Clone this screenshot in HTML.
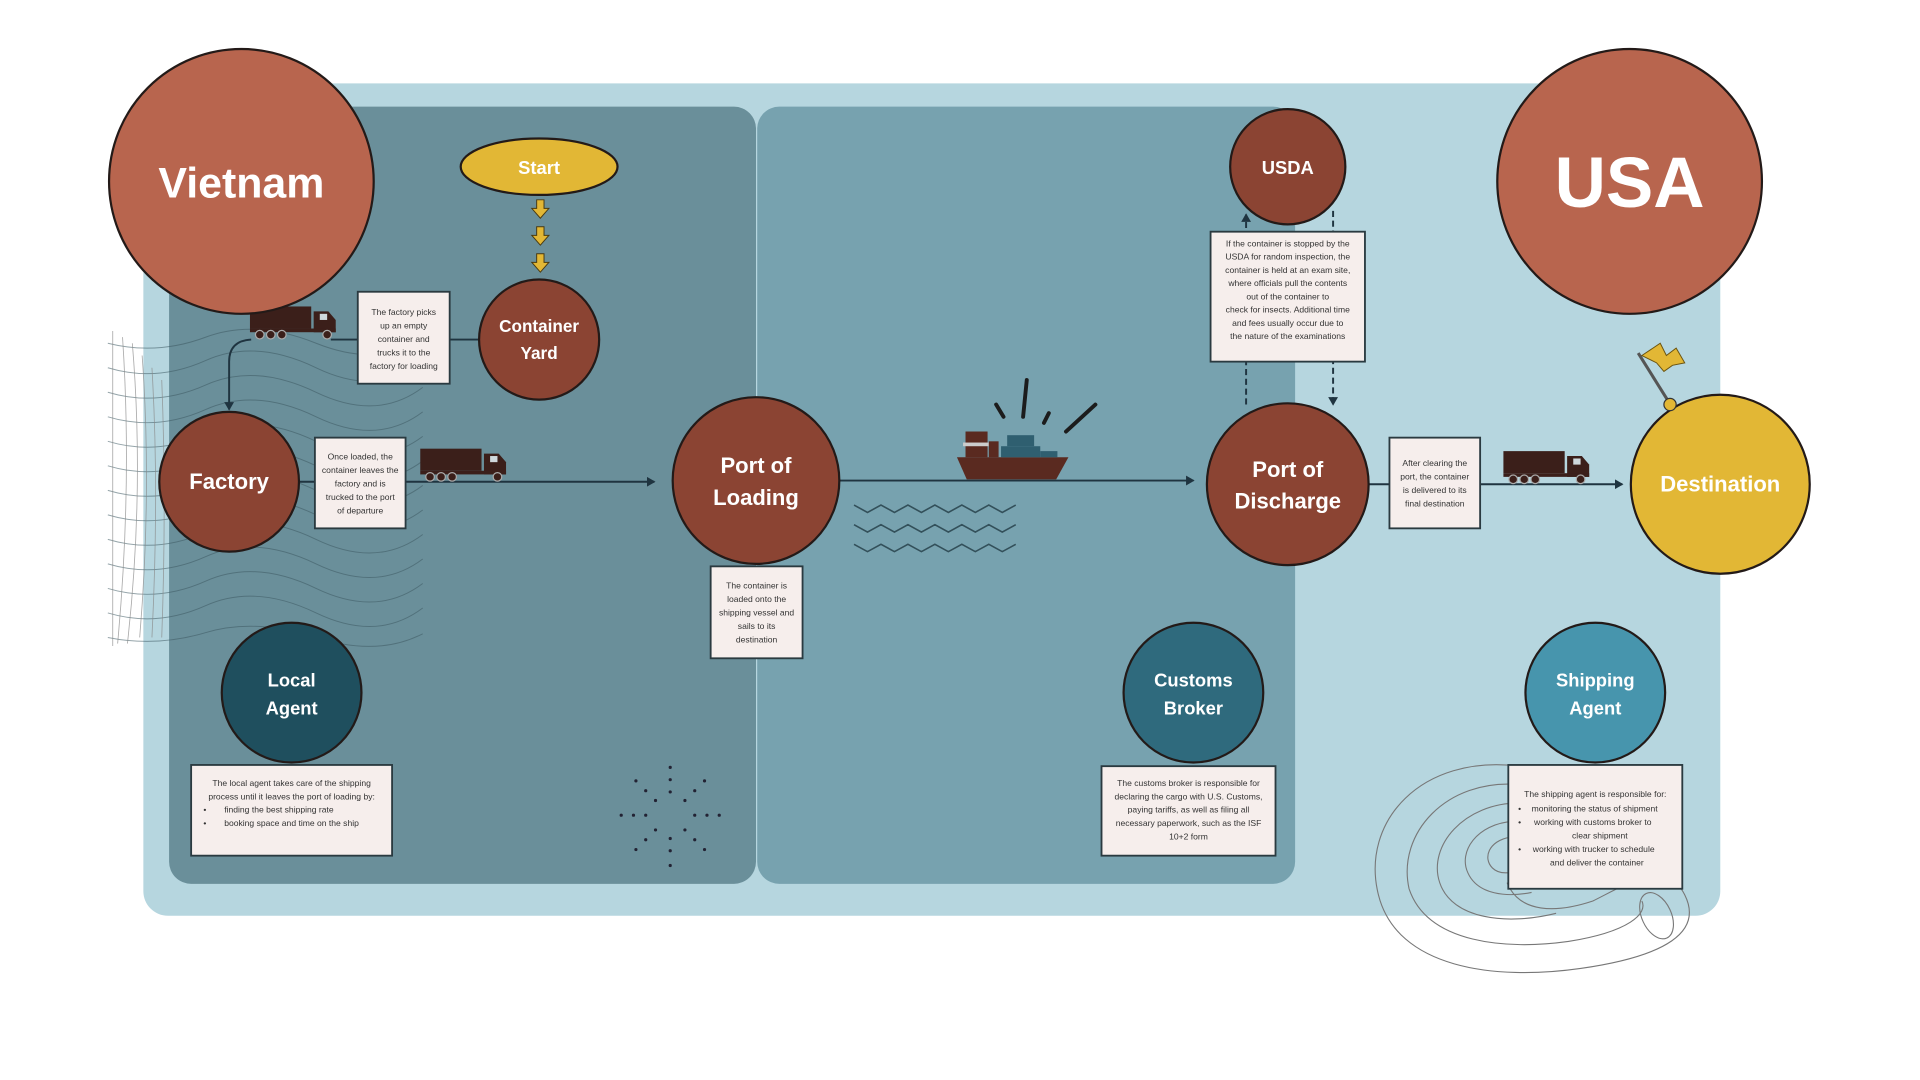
<!DOCTYPE html>
<html><head><meta charset="utf-8"><style>
html,body{margin:0;padding:0;background:#fff;width:1920px;height:1080px;overflow:hidden}
svg{display:block}
text{font-family:"Liberation Sans",sans-serif}
.lbl{fill:#fff;font-weight:bold;text-anchor:middle}
.bx{fill:#f6eeec;stroke:#2a3a40;stroke-width:1.5}
.bt{fill:#333;font-size:7px;text-anchor:middle}
.ln{stroke:#1f3440;stroke-width:1.6;fill:none}
</style></head><body>
<svg width="1920" height="1080" viewBox="0 0 1567 881" preserveAspectRatio="none" xmlns="http://www.w3.org/2000/svg">
<defs>
<marker id="ah" markerWidth="8" markerHeight="8" refX="6" refY="4" orient="auto" markerUnits="userSpaceOnUse"><path d="M0,0 L7,4 L0,8 Z" fill="#1f3440"/></marker>
<g id="truck">
<rect x="0" y="0" width="50" height="18" fill="#3b1f1a"/>
<path d="M52,4 H64 L70,11 V21 H52 Z" fill="#3b1f1a"/>
<rect x="57" y="6" width="6" height="5" fill="#cfd8dc"/>
<rect x="0" y="18" width="70" height="3" fill="#3b1f1a"/>
<circle cx="8" cy="23" r="3.5" fill="#3b1f1a" stroke="#aaa" stroke-width="1"/>
<circle cx="17" cy="23" r="3.5" fill="#3b1f1a" stroke="#aaa" stroke-width="1"/>
<circle cx="26" cy="23" r="3.5" fill="#3b1f1a" stroke="#aaa" stroke-width="1"/>
<circle cx="63" cy="23" r="3.5" fill="#3b1f1a" stroke="#aaa" stroke-width="1"/>
</g>
</defs>

<rect x="117" y="68" width="1287" height="679" rx="20" fill="#b6d6df"/>
<rect x="138" y="87" width="479" height="634" rx="18" fill="#6a8f9a"/>
<rect x="618" y="87" width="439" height="634" rx="18" fill="#77a2af"/>

<g stroke="#3e5a63" stroke-width="0.8" fill="none" opacity="0.55">
<path d="M88,280 q40,10 80,-5 t90,5 t87,-3"/><path d="M88,300 q40,12 80,-6 t90,6 t87,-4"/>
<path d="M88,320 q40,12 80,-6 t90,6 t87,-4"/><path d="M88,340 q40,12 80,-6 t90,6 t87,-4"/>
<path d="M88,360 q40,12 80,-6 t90,6 t87,-4"/><path d="M88,380 q40,12 80,-6 t90,6 t87,-4"/>
<path d="M88,400 q40,12 80,-6 t90,6 t87,-4"/><path d="M88,420 q40,12 80,-6 t90,6 t87,-4"/>
<path d="M88,440 q40,12 80,-6 t90,6 t87,-4"/><path d="M88,460 q40,12 80,-6 t90,6 t87,-4"/>
<path d="M88,480 q40,12 80,-6 t90,6 t87,-4"/><path d="M88,500 q40,12 80,-6 t90,6 t87,-4"/>
<path d="M88,520 q40,8 80,-4 t90,4 t87,-3"/>
</g>
<g stroke="#888" stroke-width="0.7" fill="none" opacity="0.7">
<path d="M92,270 v257"/><path d="M100,275 q8,120 -4,250"/><path d="M108,280 q10,120 -4,245"/><path d="M116,290 q8,110 -2,230"/><path d="M124,300 q6,100 0,220"/><path d="M132,310 q4,100 0,210"/>
</g>

<line class="ln" x1="331" y1="393" x2="534" y2="393" marker-end="url(#ah)"/>
<line class="ln" x1="685" y1="392" x2="974" y2="392" marker-end="url(#ah)"/>
<line class="ln" x1="1117" y1="395" x2="1324" y2="395" marker-end="url(#ah)"/>
<line class="ln" x1="367" y1="277" x2="391" y2="277"/>
<line class="ln" x1="270" y1="277" x2="292" y2="277"/>
<path class="ln" d="M205,277 Q187,278 187,295 L187,334" marker-end="url(#ah)"/>
<line class="ln" x1="244" y1="393" x2="257" y2="393"/>
<line class="ln" x1="1017" y1="330" x2="1017" y2="175" stroke-dasharray="5,3" marker-end="url(#ah)"/>
<line class="ln" x1="1088" y1="172" x2="1088" y2="330" stroke-dasharray="5,3" marker-end="url(#ah)"/>

<use href="#truck" x="204" y="250"/>
<use href="#truck" x="343" y="366"/>
<use href="#truck" x="1227" y="368"/>

<g>
<path d="M781,373 H872 L862,391 H789 Z" fill="#5a2a20"/>
<rect x="788" y="352" width="18" height="21" fill="#5a2a20"/>
<rect x="786" y="361" width="22" height="3" fill="#ccc"/>
<rect x="807" y="360" width="8" height="13" fill="#5a2a20"/>
<rect x="817" y="364" width="32" height="9" fill="#2f5f70"/>
<rect x="822" y="355" width="22" height="9" fill="#2f5f70"/>
<rect x="849" y="368" width="14" height="5" fill="#2f5f70"/>
<g stroke="#1c1c1c" stroke-width="3.2" stroke-linecap="round">
<line x1="813" y1="330" x2="819" y2="340"/><line x1="838" y1="310" x2="835" y2="340"/><line x1="856" y1="337" x2="852" y2="345"/><line x1="894" y1="330" x2="870" y2="352"/>
</g>
</g>
<g stroke="#33505a" stroke-width="1.3" fill="none">
<path d="M697,412 l11,6 l11,-6 l11,6 l11,-6 l11,6 l11,-6 l11,6 l11,-6 l11,6 l11,-6 l11,6 l11,-6"/>
<path d="M697,428 l11,6 l11,-6 l11,6 l11,-6 l11,6 l11,-6 l11,6 l11,-6 l11,6 l11,-6 l11,6 l11,-6"/>
<path d="M697,444 l11,6 l11,-6 l11,6 l11,-6 l11,6 l11,-6 l11,6 l11,-6 l11,6 l11,-6 l11,6 l11,-6"/>
</g>

<g fill="#223">
<circle cx="547" cy="626" r="1.3"/><circle cx="547" cy="636" r="1.3"/><circle cx="547" cy="646" r="1.3"/><circle cx="547" cy="684" r="1.3"/><circle cx="547" cy="694" r="1.3"/><circle cx="547" cy="706" r="1.3"/>
<circle cx="507" cy="665" r="1.3"/><circle cx="517" cy="665" r="1.3"/><circle cx="527" cy="665" r="1.3"/><circle cx="567" cy="665" r="1.3"/><circle cx="577" cy="665" r="1.3"/><circle cx="587" cy="665" r="1.3"/>
<circle cx="519" cy="637" r="1.3"/><circle cx="527" cy="645" r="1.3"/><circle cx="535" cy="653" r="1.3"/><circle cx="559" cy="677" r="1.3"/><circle cx="567" cy="685" r="1.3"/><circle cx="575" cy="693" r="1.3"/>
<circle cx="575" cy="637" r="1.3"/><circle cx="567" cy="645" r="1.3"/><circle cx="559" cy="653" r="1.3"/><circle cx="535" cy="677" r="1.3"/><circle cx="527" cy="685" r="1.3"/><circle cx="519" cy="693" r="1.3"/>
</g>

<g stroke="#777" stroke-width="0.9" fill="none">
<path d="M1240,625 C1160,615 1110,670 1125,730 C1140,790 1220,800 1290,790 C1360,780 1390,760 1375,730 C1360,700 1330,720 1300,735 C1270,745 1240,745 1230,720"/>
<path d="M1240,640 C1180,635 1140,680 1150,725 C1165,770 1230,775 1280,768 C1330,760 1345,745 1340,735"/>
<path d="M1240,655 C1195,655 1165,690 1175,720 C1185,750 1230,755 1270,745"/>
<path d="M1235,670 C1205,672 1190,695 1198,712 C1206,730 1230,732 1250,728"/>
<path d="M1232,683 C1215,686 1210,700 1218,708 C1225,715 1240,712 1245,705"/>
<ellipse cx="1352" cy="747" rx="12" ry="20" transform="rotate(-25 1352 747)"/>
</g>

<g stroke="#231a18" stroke-width="1.8">
<circle cx="197" cy="148" r="108" fill="#b8654e"/>
<circle cx="1330" cy="148" r="108" fill="#b8654e"/>
<ellipse cx="440" cy="136" rx="64" ry="23" fill="#e2b735"/>
<circle cx="440" cy="277" r="49" fill="#8b4433"/>
<circle cx="187" cy="393" r="57" fill="#8b4433"/>
<circle cx="617" cy="392" r="68" fill="#8b4433"/>
<circle cx="1051" cy="395" r="66" fill="#8b4433"/>
<circle cx="1051" cy="136" r="47" fill="#8b4433"/>
<circle cx="1404" cy="395" r="73" fill="#e2b735"/>
<circle cx="238" cy="565" r="57" fill="#1f4f5e"/>
<circle cx="974" cy="565" r="57" fill="#2f6a7d"/>
<circle cx="1302" cy="565" r="57" fill="#4795ad"/>
</g>

<g>
<line x1="1337" y1="288" x2="1362" y2="328" stroke="#555" stroke-width="2.5"/>
<circle cx="1363" cy="330" r="5" fill="#e2b735" stroke="#333" stroke-width="1"/>
<path d="M1340,290 L1355,280 L1360,290 L1368,284 L1375,296 L1365,298 L1358,303 L1352,296 Z" fill="#e2b735" stroke="#6b5410" stroke-width="0.8"/>
</g>

<g fill="#e2b735" stroke="#4a3a10" stroke-width="0.8">
<path d="M438,163 h6 v7 h4 l-7,8 l-7,-8 h4 Z"/>
<path d="M438,185 h6 v7 h4 l-7,8 l-7,-8 h4 Z"/>
<path d="M438,207 h6 v7 h4 l-7,8 l-7,-8 h4 Z"/>
</g>

<text class="lbl" x="197" y="161" font-size="35">Vietnam</text>
<text class="lbl" x="1330" y="169" font-size="58">USA</text>
<text class="lbl" x="440" y="142" font-size="15">Start</text>
<text class="lbl" x="440" y="271" font-size="14">Container</text>
<text class="lbl" x="440" y="293" font-size="14">Yard</text>
<text class="lbl" x="187" y="399" font-size="18">Factory</text>
<text class="lbl" x="617" y="386" font-size="18">Port of</text>
<text class="lbl" x="617" y="412" font-size="18">Loading</text>
<text class="lbl" x="1051" y="389" font-size="18">Port of</text>
<text class="lbl" x="1051" y="415" font-size="18">Discharge</text>
<text class="lbl" x="1051" y="142" font-size="15">USDA</text>
<text class="lbl" x="1404" y="401" font-size="18">Destination</text>
<text class="lbl" x="238" y="560" font-size="15">Local</text>
<text class="lbl" x="238" y="583" font-size="15">Agent</text>
<text class="lbl" x="974" y="560" font-size="15">Customs</text>
<text class="lbl" x="974" y="583" font-size="15">Broker</text>
<text class="lbl" x="1302" y="560" font-size="15">Shipping</text>
<text class="lbl" x="1302" y="583" font-size="15">Agent</text>

<rect class="bx" x="292" y="238" width="75" height="75"/>
<text class="bt" x="329.5" y="257">The factory picks<tspan x="329.5" dy="11">up an empty</tspan><tspan x="329.5" dy="11">container and</tspan><tspan x="329.5" dy="11">trucks it to the</tspan><tspan x="329.5" dy="11">factory for loading</tspan></text>

<rect class="bx" x="257" y="357" width="74" height="74"/>
<text class="bt" x="294" y="375">Once loaded, the<tspan x="294" dy="11">container leaves the</tspan><tspan x="294" dy="11">factory and is</tspan><tspan x="294" dy="11">trucked to the port</tspan><tspan x="294" dy="11">of departure</tspan></text>

<rect class="bx" x="580" y="462" width="75" height="75"/>
<text class="bt" x="617.5" y="480">The container is<tspan x="617.5" dy="11">loaded onto the</tspan><tspan x="617.5" dy="11">shipping vessel and</tspan><tspan x="617.5" dy="11">sails to its</tspan><tspan x="617.5" dy="11">destination</tspan></text>

<rect class="bx" x="988" y="189" width="126" height="106"/>
<text class="bt" x="1051" y="201">If the container is stopped by the<tspan x="1051" dy="10.8">USDA for random inspection, the</tspan><tspan x="1051" dy="10.8">container is held at an exam site,</tspan><tspan x="1051" dy="10.8">where officials pull the contents</tspan><tspan x="1051" dy="10.8">out of the container to</tspan><tspan x="1051" dy="10.8">check for insects. Additional time</tspan><tspan x="1051" dy="10.8">and fees usually occur due to</tspan><tspan x="1051" dy="10.8">the nature of the examinations</tspan></text>

<rect class="bx" x="1134" y="357" width="74" height="74"/>
<text class="bt" x="1171" y="380">After clearing the<tspan x="1171" dy="11">port, the container</tspan><tspan x="1171" dy="11">is delivered to its</tspan><tspan x="1171" dy="11">final destination</tspan></text>

<rect class="bx" x="156" y="624" width="164" height="74"/>
<text class="bt" x="238" y="641">The local agent takes care of the shipping<tspan x="238" dy="11">process until it leaves the port of loading by:</tspan></text>
<text class="bt" style="text-anchor:start"><tspan x="166" y="663">•</tspan><tspan x="183">finding the best shipping rate</tspan><tspan x="166" dy="11">•</tspan><tspan x="183">booking space and time on the ship</tspan></text>

<rect class="bx" x="899" y="625" width="142" height="73"/>
<text class="bt" x="970" y="641">The customs broker is responsible for<tspan x="970" dy="11">declaring the cargo with U.S. Customs,</tspan><tspan x="970" dy="11">paying tariffs, as well as filing all</tspan><tspan x="970" dy="11">necessary paperwork, such as the ISF</tspan><tspan x="970" dy="11">10+2 form</tspan></text>

<rect class="bx" x="1231" y="624" width="142" height="101"/>
<text class="bt" x="1302" y="650">The shipping agent is responsible for:</text>
<text class="bt" style="text-anchor:start"><tspan x="1239" y="662">•</tspan><tspan x="1250">monitoring the status of shipment</tspan><tspan x="1239" dy="11">•</tspan><tspan x="1252">working with customs broker to</tspan><tspan x="1283" dy="11">clear shipment</tspan><tspan x="1239" dy="11">•</tspan><tspan x="1251">working with trucker to schedule</tspan><tspan x="1265" dy="11">and deliver the container</tspan></text>
</svg>
</body></html>
